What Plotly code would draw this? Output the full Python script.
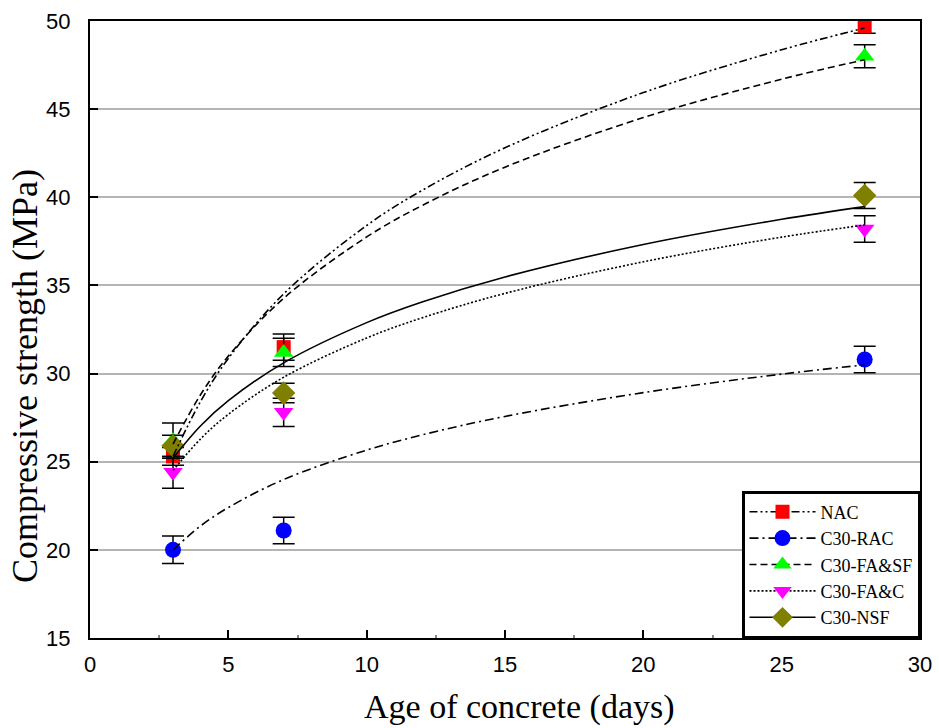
import plotly.graph_objects as go

# ---- data ----
days = [3, 7, 28]
series_names = ["NAC", "C30-RAC", "C30-FA&SF", "C30-FA&C", "C30-NSF"]
nac = [25.3, 31.5, 49.7]
nac_err = [0.5, 0.75, 0.4]
rac = [20.0, 21.1, 30.8]
rac_err = [0.78, 0.75, 0.75]
fasf = [26.2, 31.2, 48.0]
fasf_err = [1.0, 0.8, 0.65]
fac = [24.4, 27.8, 38.2]
fac_err = [0.9, 0.8, 0.75]
nsf = [25.9, 28.9, 40.1]
nsf_err = [0.6, 0.55, 0.74]

# fitted trend curves
fit_x = [3, 4, 5, 7, 10, 12, 15, 20, 25, 28]
nac_fit = [25.30, 28.43, 30.86, 34.52, 38.40, 40.39, 42.81, 45.94, 48.37, 49.60]
rac_fit = [20.00, 21.36, 22.40, 23.99, 25.66, 26.52, 27.57, 28.92, 29.97, 30.49]
fasf_fit = [26.00, 28.81, 30.99, 34.27, 37.75, 39.53, 41.71, 44.52, 46.70, 47.80]
fac_fit = [24.50, 26.30, 27.69, 29.79, 32.02, 33.16, 34.55, 36.34, 37.74, 38.43]
nsf_fit = [25.20, 27.04, 28.46, 30.61, 32.89, 34.06, 35.48, 37.32, 38.75, 39.47]

x_ticks = [0, 5, 10, 15, 20, 25, 30]
y_ticks = [15, 20, 25, 30, 35, 40, 45, 50]
x_title = "Age of concrete (days)"
y_title = "Compressive strength (MPa)"

# ---- styles ----
colors = ["#ff0000", "#0000ff", "#00ff00", "#ff00ff", "#808000"]
symbols = ["square", "circle", "triangle-up", "triangle-down", "diamond"]
sizes = [14, 16, 17, 17, 18]
dashes = ["8px,3px,2px,3px,2px,3px", "9px,4px,2px,4px", "7px,4px", "2px,2px", "solid"]

vals = [nac, rac, fasf, fac, nsf]
errs = [nac_err, rac_err, fasf_err, fac_err, nsf_err]
fits = [nac_fit, rac_fit, fasf_fit, fac_fit, nsf_fit]

SERIF = "Liberation Serif, Times New Roman, serif"
SANS = "Liberation Sans, Arial, sans-serif"

fig = go.Figure()

for i in range(5):
    fig.add_trace(go.Scatter(
        x=days, y=vals[i], mode="markers", showlegend=False,
        marker=dict(color=colors[i], symbol=symbols[i], size=sizes[i], line=dict(width=0)),
        error_y=dict(type="data", array=errs[i], visible=True, color="black",
                     thickness=1.5, width=11),
    ))

for i in range(5):
    fig.add_trace(go.Scatter(
        x=fit_x, y=fits[i], mode="lines", showlegend=False,
        line=dict(color="black", width=1.6, dash=dashes[i], shape="spline", smoothing=1.0),
    ))

for i in range(5):
    fig.add_trace(go.Scatter(
        x=[None], y=[None], mode="lines+markers", name=series_names[i],
        line=dict(color="black", width=1.6, dash=dashes[i]),
        marker=dict(color=colors[i], symbol=symbols[i], size=sizes[i], line=dict(width=0)),
    ))

fig.update_layout(
    width=939, height=728,
    margin=dict(l=90, r=19, t=21, b=90),
    paper_bgcolor="white", plot_bgcolor="white",
    showlegend=True,
    legend=dict(
        x=1, y=0, xanchor="right", yanchor="bottom",
        bgcolor="white", bordercolor="black", borderwidth=2.5,
        font=dict(family=SERIF, size=18, color="black"),
        tracegroupgap=0, itemwidth=66,
    ),
    xaxis=dict(
        range=[0, 30], tickvals=x_ticks, ticktext=[str(t) for t in x_ticks],
        showgrid=False, zeroline=False, automargin=False,
        showline=True, linecolor="black", linewidth=2.3, mirror=True,
        ticks="inside", ticklen=8, tickwidth=1.5, tickcolor="black",
        minor=dict(ticks="inside", ticklen=3, tickcolor="#888888", dtick=2.5),
        tickfont=dict(family=SANS, size=22, color="black"),
        ticklabelstandoff=5,
    ),
    yaxis=dict(
        range=[15, 50], tickvals=y_ticks, ticktext=[str(t) for t in y_ticks],
        showgrid=True, gridcolor="#b4b4b4", gridwidth=1.5, zeroline=False, automargin=False,
        showline=True, linecolor="black", linewidth=2.3, mirror=True,
        ticks="inside", ticklen=8, tickwidth=1.5, tickcolor="black",
        tickfont=dict(family=SANS, size=22, color="black"),
        ticklabelstandoff=13,
    ),
    annotations=[
        dict(text=x_title, xref="paper", yref="paper", x=0.517, y=0, yshift=-69,
             xanchor="center", yanchor="middle", showarrow=False,
             font=dict(family=SERIF, size=34, color="black")),
        dict(text=y_title, xref="paper", yref="paper", x=0, xshift=-65, y=0.4246,
             xanchor="center", yanchor="middle", textangle=-90, showarrow=False,
             font=dict(family=SERIF, size=36, color="black")),
    ],
)

fig.write_html("out.html")
